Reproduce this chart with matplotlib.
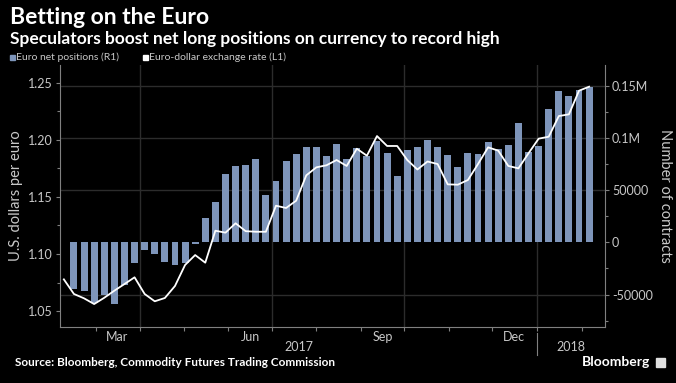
import numpy as np
import pandas as pd
import matplotlib
matplotlib.use("Agg")
import matplotlib.pyplot as plt
import matplotlib.dates as mdates
from matplotlib.patches import Rectangle
from matplotlib.lines import Line2D
from matplotlib.transforms import blended_transform_factory

plt.rcParams['font.family'] = ['Lato', 'DejaVu Sans']

# weekly CFTC euro net positions (contracts), Tuesdays
bar_dates = pd.date_range("2017-02-14", "2018-02-06", freq="7D")
net_positions = [-44700, -46300, -58400, -50400, -59100, -40900, -19500, -7300, -11200,
                 -18800, -21400, -20100, -2000,
                 23000, 38300, 65500, 73500, 74100, 79500, 45000, 59100, 77600, 84300,
                 91600, 91000, 83000, 94200, 79500, 90000, 83000, 96700, 85900, 63500,
                 88400, 91000, 98000, 91000, 83300, 72500, 85900, 84600, 95800, 89700,
                 93600, 114000, 86800, 92600, 128000, 144600, 139800, 145900, 149100]

# euro-dollar exchange rate, weekly
line_dates = pd.date_range("2017-02-07", "2018-02-06", freq="7D")
eurusd = [1.0778, 1.0650, 1.0612, 1.0562, 1.0617, 1.0679, 1.0737, 1.0796, 1.0650, 1.0586,
          1.0615, 1.0720, 1.0904, 1.0991, 1.0924, 1.1204, 1.1187, 1.1269, 1.1200, 1.1195,
          1.1195, 1.1423, 1.1403, 1.1467, 1.1689, 1.1759, 1.1777, 1.1823, 1.1771, 1.1922,
          1.1861, 1.2033, 1.1946, 1.1946, 1.1823, 1.1740, 1.1810, 1.1788, 1.1610, 1.1607,
          1.1648, 1.1788, 1.1934, 1.1905, 1.1771, 1.1750, 1.1882, 1.2010, 1.2027, 1.2208,
          1.2223, 1.2430, 1.2465]

right_ticks = [-50000, 0, 50000, 100000, 150000]
right_labels = ["-50000", "0", "50000", "0.1M", "0.15M"]
left_ticks = [1.05, 1.10, 1.15, 1.20, 1.25]
month_labels = ["Mar", "Jun", "Sep", "Dec"]
month_label_dates = ["2017-03-16", "2017-06-16", "2017-09-16", "2017-12-16"]
quarter_lines = ["2017-04-01", "2017-07-01", "2017-10-01", "2018-01-01"]

W, H = 676, 383
BG = "black"
BAR = "#7e95ba"
GRID = "#2c2c2c"
SPINE = "#808080"
TXT = "#c8c8c8"


def fx(x):
    return x / W


def fy(y):
    return 1 - y / H


fig = plt.figure(figsize=(W / 100, H / 100), dpi=100, facecolor=BG)
ax = fig.add_axes([fx(60), fy(327), (605 - 60) / W, (327 - 65) / H], facecolor=BG)
axl = ax.twinx()
ax.set_zorder(1)
axl.set_zorder(2)
axl.patch.set_visible(False)

# bars on the right-hand axis
ax.bar(bar_dates, net_positions, width=4.8, color=BAR, zorder=3)
ax.set_ylim(-81100, 169800)
ax.set_xlim(pd.Timestamp("2017-02-04 08:00"), pd.Timestamp("2018-02-17"))
ax.yaxis.tick_right()
ax.yaxis.set_label_position('right')
ax.set_yticks(right_ticks)
ax.set_yticklabels(right_labels)
ax.set_yticks(np.arange(-75000, 175000, 25000), minor=True)
for t in right_ticks:
    if t != 0:
        ax.axhline(t, color=GRID, lw=1, zorder=1)
for d in quarter_lines:
    ax.axvline(pd.Timestamp(d), color=GRID, lw=1, zorder=1)

# x axis: month ticks at month starts, labels mid-month
ax.xaxis.set_minor_locator(mdates.MonthLocator())
ax.set_xticks([pd.Timestamp(d) for d in month_label_dates])
ax.set_xticklabels(month_labels)
ax.tick_params(axis='x', which='major', length=0, pad=3, labelsize=9, labelcolor=TXT)
ax.tick_params(axis='x', which='minor', length=3, color=SPINE, width=0.8)
ax.tick_params(axis='y', which='both', color=SPINE, width=0.8, labelsize=9, labelcolor=TXT)
ax.tick_params(axis='y', which='major', length=3, pad=2)
ax.tick_params(axis='y', which='minor', length=2)
for s in ['left', 'right', 'bottom']:
    ax.spines[s].set_color(SPINE)
    ax.spines[s].set_linewidth(0.8)
ax.spines['top'].set_visible(False)
ax.set_ylabel("Number of contracts", color=TXT, fontsize=10.5, rotation=270, labelpad=14)

# line on the left-hand axis
axl.plot(line_dates, eurusd, color="white", lw=1.3, zorder=4)
axl.set_ylim(1.0361, 1.2655)
axl.yaxis.tick_left()
axl.yaxis.set_label_position('left')
axl.set_yticks(left_ticks)
axl.set_yticklabels([f"{v:.2f}" for v in left_ticks])
axl.set_yticks(np.arange(1.05, 1.26, 0.025), minor=True)
axl.tick_params(axis='y', which='both', color=SPINE, width=0.8, labelsize=9, labelcolor=TXT)
axl.tick_params(axis='y', which='major', length=3, pad=2)
axl.tick_params(axis='y', which='minor', length=2)
for s in axl.spines.values():
    s.set_visible(False)
axl.set_ylabel("U.S. dollars per euro", color=TXT, fontsize=10.5, labelpad=4)

# year labels and separator
trans = blended_transform_factory(ax.transData, ax.transAxes)
x0, x1 = ax.get_xlim()
jan = mdates.date2num(pd.Timestamp("2018-01-01"))
ax.text((x0 + jan) / 2, -20 / 262, "2017", transform=trans, ha='center', va='center',
        color=TXT, fontsize=9)
ax.text((jan + x1) / 2, -20 / 262, "2018", transform=trans, ha='center', va='center',
        color=TXT, fontsize=9)
ax.add_line(Line2D([jan, jan], [-6 / 262, -28 / 262], transform=trans, color=SPINE,
                   lw=0.8, clip_on=False))

# titles
fig.text(fx(10), fy(24), "Betting on the Euro", color="white", fontsize=16.5,
         fontweight='bold', va='baseline')
fig.text(fx(10), fy(44), "Speculators boost net long positions on currency to record high",
         color="white", fontsize=12.5, fontweight='bold', va='baseline')

# legend
fig.add_artist(Rectangle((fx(10), fy(60)), 5 / W, 5 / H, transform=fig.transFigure,
                         color=BAR))
fig.text(fx(16), fy(57.5), "Euro net positions (R1)", color=TXT, fontsize=7.5, va='center')
fig.add_artist(Rectangle((fx(143), fy(60)), 5 / W, 5 / H, transform=fig.transFigure,
                         color="white"))
fig.text(fx(149), fy(57.5), "Euro-dollar exchange rate (L1)", color=TXT, fontsize=7.5,
         va='center')

# footer
fig.text(fx(15), fy(363), "Source: Bloomberg, Commodity Futures Trading Commission",
         color="white", fontsize=8.5, fontweight='bold', va='center')
fig.text(fx(650), fy(362), "Bloomberg", color="white", fontsize=10, fontweight='bold',
         va='center', ha='right')
fig.add_artist(Rectangle((fx(656), fy(367)), 9 / W, 9 / H, transform=fig.transFigure,
                         color="#e0e0e0"))

fig.savefig("out.png", dpi=100, facecolor=BG)
